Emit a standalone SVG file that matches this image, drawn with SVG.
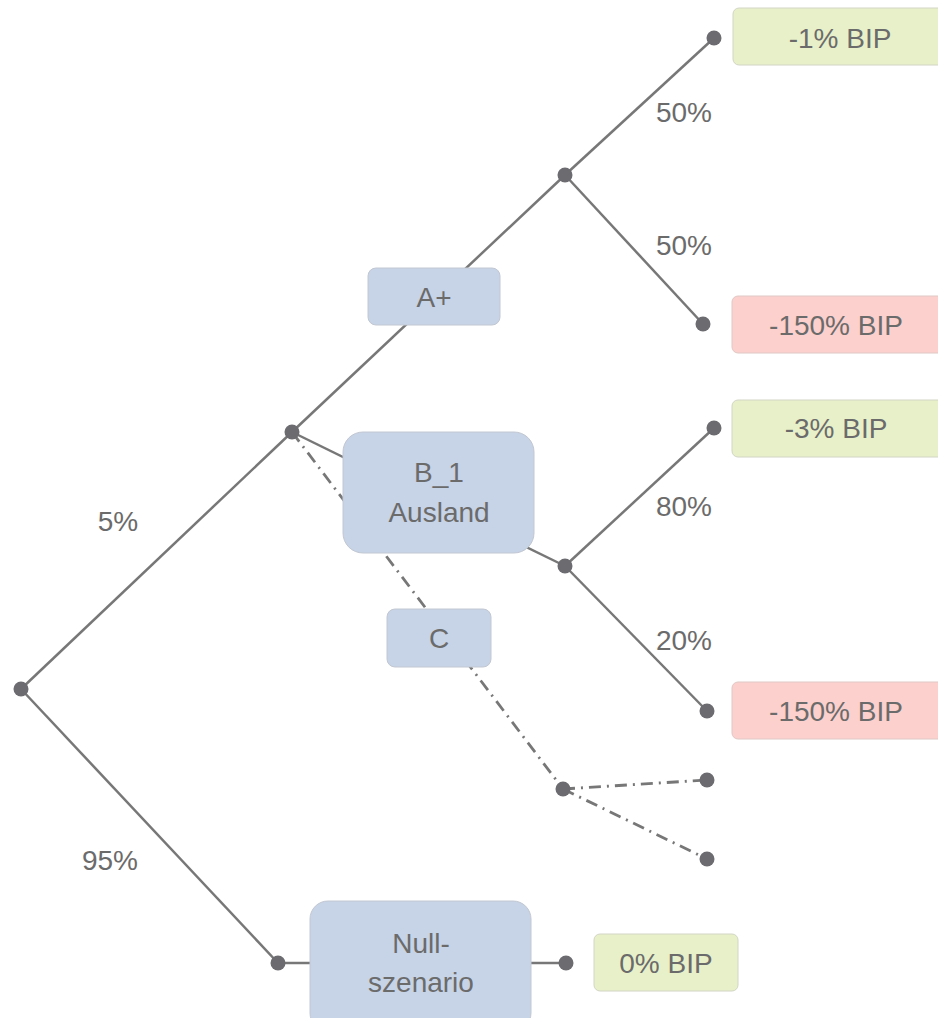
<svg xmlns="http://www.w3.org/2000/svg" width="938" height="1018" viewBox="0 0 938 1018">
<style>
.ln{stroke:#777;stroke-width:2.5;fill:none}
.dd{stroke:#777;stroke-width:2.8;fill:none;stroke-dasharray:12 6 2 6}
.dot{fill:#6b6b70}
.blue{fill:#c7d3e6;stroke:#c2c8d2;stroke-width:1}
.green{fill:#e8f0c9;stroke:#d2d6c4;stroke-width:1}
.pink{fill:#fcd0cc;stroke:#e0c8c6;stroke-width:1}
text{font-family:"Liberation Sans",Arial,sans-serif;font-size:28px;fill:#6b6b6b;text-anchor:middle}
</style>
<g id="connectors">
<line class="ln" x1="21" y1="689" x2="292" y2="432"/>
<line class="ln" x1="21" y1="689" x2="278" y2="963"/>
<line class="ln" x1="292" y1="432" x2="565" y2="175"/>
<line class="ln" x1="565" y1="175" x2="714" y2="38"/>
<line class="ln" x1="565" y1="175" x2="703" y2="324"/>
<line class="ln" x1="292" y1="432" x2="565" y2="566"/>
<line class="ln" x1="565" y1="566" x2="714" y2="428"/>
<line class="ln" x1="565" y1="566" x2="707" y2="711"/>
<line class="dd" x1="292" y1="432" x2="563" y2="789"/>
<line class="dd" x1="563" y1="789" x2="707" y2="780"/>
<line class="dd" x1="563" y1="789" x2="707" y2="859"/>
<line class="ln" x1="278" y1="963" x2="566" y2="963"/>
</g>
<g id="dots">
<circle class="dot" cx="21" cy="689" r="7.5"/>
<circle class="dot" cx="292" cy="432" r="7.5"/>
<circle class="dot" cx="565" cy="175" r="7.5"/>
<circle class="dot" cx="714" cy="38" r="7.5"/>
<circle class="dot" cx="703" cy="324" r="7.5"/>
<circle class="dot" cx="714" cy="428" r="7.5"/>
<circle class="dot" cx="565" cy="566" r="7.5"/>
<circle class="dot" cx="707" cy="711" r="7.5"/>
<circle class="dot" cx="563" cy="789" r="7.5"/>
<circle class="dot" cx="707" cy="780" r="7.5"/>
<circle class="dot" cx="707" cy="859" r="7.5"/>
<circle class="dot" cx="278" cy="963" r="7.5"/>
<circle class="dot" cx="566" cy="963" r="7.5"/>
</g>
<g id="labels">
<text x="684" y="122">50%</text>
<text x="684" y="255">50%</text>
<text x="684" y="516">80%</text>
<text x="684" y="650">20%</text>
<text x="118" y="531">5%</text>
<text x="110" y="870">95%</text>
</g>
<g id="node-aplus">
<rect class="blue" x="368" y="268" width="132" height="57" rx="8"/>
<text x="434" y="307">A+</text>
</g>
<g id="node-b1">
<rect class="blue" x="343" y="432" width="191" height="121" rx="20"/>
<text x="439" y="482">B_1</text>
<text x="439" y="522">Ausland</text>
</g>
<g id="node-c">
<rect class="blue" x="387" y="609" width="104" height="58" rx="8"/>
<text x="439" y="648">C</text>
</g>
<g id="node-null">
<rect class="blue" x="310" y="901" width="221" height="130" rx="18"/>
<text x="421" y="953">Null-</text>
<text x="421" y="992">szenario</text>
</g>
<g id="out-1">
<rect class="green" x="733" y="8" width="215" height="57" rx="6"/>
<text x="840" y="48">-1% BIP</text>
</g>
<g id="out-150a">
<rect class="pink" x="732" y="296" width="216" height="57" rx="6"/>
<text x="836" y="335">-150% BIP</text>
</g>
<g id="out-3">
<rect class="green" x="732" y="400" width="216" height="57" rx="6"/>
<text x="836" y="438">-3% BIP</text>
</g>
<g id="out-150b">
<rect class="pink" x="732" y="682" width="216" height="57" rx="6"/>
<text x="836" y="721">-150% BIP</text>
</g>
<g id="out-0">
<rect class="green" x="594" y="934" width="144" height="57" rx="6"/>
<text x="666" y="973">0% BIP</text>
</g>
</svg>
